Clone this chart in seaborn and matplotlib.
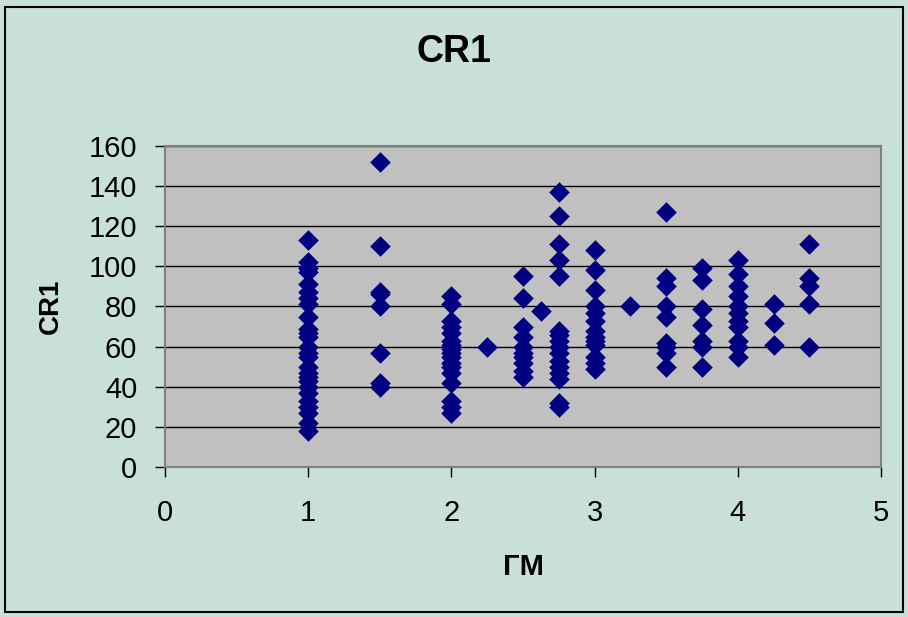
import matplotlib
matplotlib.use("Agg")
import matplotlib.pyplot as plt
import seaborn as sns
import pandas as pd
from matplotlib.patches import Rectangle

# values, one list per x position
gm_1 = [113, 102, 99, 97, 91, 87, 84, 81, 75, 69, 67, 65, 60, 57, 55, 50, 47, 45, 43, 40, 37, 33, 30, 27, 22, 18]
gm_1_5 = [152, 110, 87, 86, 80, 57, 42, 40]
gm_2 = [85, 81, 73, 70, 67, 63, 61, 59, 57, 55, 52, 50, 47, 42, 33, 30, 27]
gm_2_25 = [60]
gm_2_5 = [95, 84, 70, 65, 60, 57, 55, 52, 48, 45]
gm_2_625 = [78]
gm_2_75 = [137, 125, 111, 103, 95, 68, 66, 63, 60, 57, 53, 50, 47, 44, 32, 30]
gm_3 = [108, 98, 88, 80, 77, 73, 68, 65, 63, 61, 55, 52, 49]
gm_3_25 = [80]
gm_3_5 = [127, 94, 90, 80, 75, 62, 60, 57, 50]
gm_3_75 = [99, 93, 79, 71, 63, 60, 50]
gm_4 = [103, 96, 90, 85, 80, 77, 73, 70, 63, 60, 55]
gm_4_25 = [81, 72, 61]
gm_4_5 = [111, 94, 90, 81, 60]

groups = {1: gm_1, 1.5: gm_1_5, 2: gm_2, 2.25: gm_2_25, 2.5: gm_2_5,
          2.625: gm_2_625, 2.75: gm_2_75, 3: gm_3, 3.25: gm_3_25,
          3.5: gm_3_5, 3.75: gm_3_75, 4: gm_4, 4.25: gm_4_25, 4.5: gm_4_5}

df = pd.DataFrame([(k, v) for k, vals in groups.items() for v in vals],
                  columns=["ГМ", "CR1"])

plt.rcParams['font.family'] = ['Liberation Sans', 'DejaVu Sans']

fig = plt.figure(figsize=(9.08, 6.17), dpi=100)
fig.patch.set_facecolor("#C9E0D9")
fig.patches.append(Rectangle((0.005, 0.008), 0.99, 0.98, transform=fig.transFigure,
                             fill=False, edgecolor="black", linewidth=1.5))

ax = fig.add_axes([0.1817, 0.2431, 0.7886, 0.5203])
ax.set_facecolor("#C0C0C0")

sns.scatterplot(data=df, x="ГМ", y="CR1", ax=ax, marker="D", color="#000080",
                s=110, edgecolor="#000080", linewidth=0, zorder=3)

ax.set_xlim(0, 5)
ax.set_ylim(0, 160)
ax.set_xticks(range(0, 6))
ax.set_yticks(range(0, 161, 20))
ax.yaxis.grid(True, color="black", linewidth=1)
ax.set_axisbelow(True)
for sp in ax.spines.values():
    sp.set_color("#808080")
    sp.set_linewidth(1.5)

ax.tick_params(labelsize=21, length=7, width=1, color="black")
ax.tick_params(axis="y", pad=13)
ax.tick_params(axis="x", pad=16)

ax.set_xlabel("ГМ", fontsize=21, fontweight="bold", va="center")
ax.xaxis.set_label_coords(0.5, -0.31)
ax.set_ylabel("CR1", fontsize=20, fontweight="bold", va="center")
ax.yaxis.set_label_coords(-0.16, 0.5)
fig.text(0.5, 0.915, "CR1", ha="center", va="center", fontsize=27, fontweight="bold")

fig.savefig("out.png", dpi=100, facecolor=fig.get_facecolor())
